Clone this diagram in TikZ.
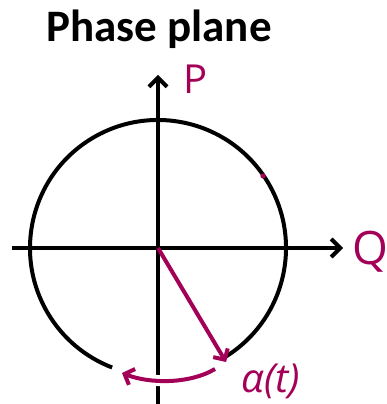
\documentclass[tikz,border=0pt]{standalone}
\usepackage{fontspec}
\setmainfont{Carlito}
\newfontfamily\handfont{Open Sans}
\usetikzlibrary{arrows.meta,calc}
\definecolor{mag}{RGB}{163,0,88}
\begin{document}
\begin{tikzpicture}[x=1pt,y=1pt,
  axisline/.style={line width=4pt,-{Straight Barb[length=9pt,width=18pt,line width=4pt]}},
  orbit/.style={line width=4pt},
  magline/.style={mag,line width=4pt,-{Straight Barb[length=8pt,width=17pt,line width=4pt]}},
  maglabel/.style={text=mag,inner sep=0pt}]
\useasboundingbox (0,0) rectangle (387,404);
\coordinate (O) at (158,156);
\coordinate (yb) at (158,0);
\coordinate (yt) at (158,329);
\coordinate (xl) at (12,156);
\coordinate (xr) at (343,156);
\coordinate (rt) at (226,42);
\coordinate (as) at (215,35);
\coordinate (ae) at (122,31);
\node (title) at (159,375) {\fontsize{45}{50}\selectfont\bfseries Phase plane};
% circle (orbit), open at the bottom
\draw[orbit] ($(O)+(-59:128)$) arc[start angle=-59,end angle=249,radius=128];
% axes
\draw[axisline] (yb) -- (yt);
\draw[axisline] (xl) -- (xr);
% labels
\node[maglabel] (P) at (196,325) {\handfont\fontsize{40}{40}\selectfont P};
\node[maglabel] (Q) at (370,152) {\handfont\fontsize{46}{46}\selectfont Q};
\node[maglabel] (alpha) at (271,23) {\handfont\itshape\fontsize{40}{40}\selectfont α(t)};
% dot on orbit
\fill[mag] (263,228) circle (2.6);
% radius vector
\draw[magline] (O) -- (rt);
% direction of motion
\draw[magline,preaction={draw=white,line width=11pt,-}] (as) .. controls (190,20) and (150,20) .. (ae);
\end{tikzpicture}
\end{document}
